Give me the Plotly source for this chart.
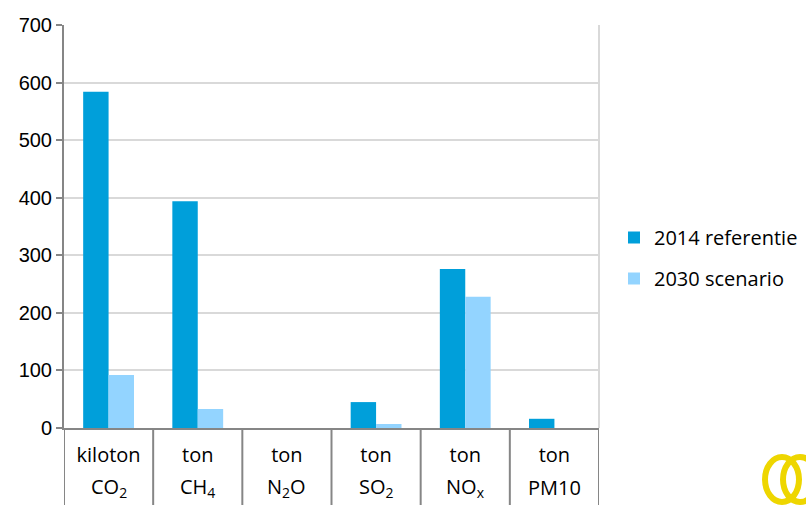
import plotly.graph_objects as go

units = ["kiloton", "ton", "ton", "ton", "ton", "ton"]
species = ["CO<sub>2</sub>", "CH<sub>4</sub>", "N<sub>2</sub>O", "SO<sub>2</sub>", "NO<sub>x</sub>", "PM10"]
keys = ["CO2", "CH4", "N2O", "SO2", "NOx", "PM10"]
ref_2014 = [584, 394, 0, 45, 276, 16]
scen_2030 = [92, 33, 0, 7, 228, 0]
series_names = ["2014 referentie", "2030 scenario"]
colors = ["#009FDA", "#93D4FF"]

L, R, T, B = 64, 207, 25, 77
W, H = 806, 505
pw, ph = W - L - R, H - T - B

fig = go.Figure()
for name, vals, col, grp in zip(series_names, [ref_2014, scen_2030], colors, ["a", "b"]):
    fig.add_trace(go.Bar(x=keys, y=vals, name=name, marker=dict(color=col, line=dict(width=0)),
                         legendgroup=grp))

shapes = []
# category separators extending below the axis
for i in range(len(keys) + 1):
    shapes.append(dict(type="line", xref="x", yref="paper", x0=i - 0.5, x1=i - 0.5,
                       y0=0, y1=-B / ph, line=dict(color="#868686", width=2)))
# right border of plot area
shapes.append(dict(type="line", xref="paper", yref="paper", x0=1, x1=1, y0=0, y1=1,
                   line=dict(color="#d9d9d9", width=2)))

def px_to_paper(x, y):
    return (x - L) / pw, (H - B - y) / ph

# logo rings (decoration)
for x0, x1 in [(765, 799), (783, 817)]:
    a = px_to_paper(x0, 502)
    b = px_to_paper(x1, 457)
    shapes.append(dict(type="circle", xref="paper", yref="paper", x0=a[0], y0=a[1], x1=b[0], y1=b[1],
                       line=dict(color="#EED600", width=6)))

annotations = []
for i, s in enumerate(species):
    annotations.append(dict(x=i, y=-(487 - (H - B)) / ph, xref="x", yref="paper", text=s,
                            showarrow=False, yanchor="middle", xanchor="center",
                            font=dict(family="Open Sans", size=20, color="#000000")))

fig.update_layout(
    width=W, height=H,
    margin=dict(l=L, r=R, t=T, b=B, pad=0),
    paper_bgcolor="white", plot_bgcolor="white",
    barmode="group", bargap=0.43, bargroupgap=0,
    font=dict(family="Open Sans", size=20, color="#000000"),
    xaxis=dict(type="category", categoryarray=keys, tickvals=keys, ticktext=units,
               range=[-0.5, len(keys) - 0.5], showgrid=False, zeroline=False,
               showline=True, linecolor="#868686", linewidth=2, ticks="",
               tickfont=dict(family="Open Sans", size=20, color="#000000"),
               ticklabelstandoff=8),
    yaxis=dict(range=[0, 700], dtick=100, showgrid=True, gridcolor="#d9d9d9", gridwidth=2,
               zeroline=False, showline=True, linecolor="#868686", linewidth=2,
               ticks="outside", ticklen=6, tickcolor="#868686", tickwidth=2,
               tickfont=dict(family="Liberation Sans", size=20, color="#000000")),
    legend=dict(xref="container", yref="container", x=614 / W, y=(H - 258) / H,
                xanchor="left", yanchor="middle", traceorder="grouped",
                tracegroupgap=12, font=dict(family="Open Sans", size=20, color="#000000"),
                bgcolor="rgba(0,0,0,0)", borderwidth=0),
    shapes=shapes, annotations=annotations,
)

fig.write_html("out.html")
